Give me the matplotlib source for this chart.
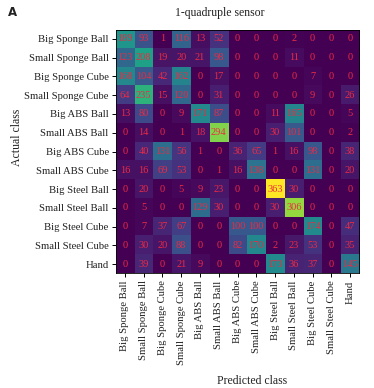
import matplotlib
matplotlib.use("Agg")
import matplotlib.pyplot as plt
import numpy as np

classes = ["Big Sponge Ball", "Small Sponge Ball", "Big Sponge Cube", "Small Sponge Cube",
           "Big ABS Ball", "Small ABS Ball", "Big ABS Cube", "Small ABS Cube",
           "Big Steel Ball", "Small Steel Ball", "Big Steel Cube", "Small Steel Cube", "Hand"]

row_big_sponge_ball = [189, 93, 1, 116, 13, 52, 0, 0, 0, 2, 0, 0, 0]
row_small_sponge_ball = [123, 208, 19, 20, 21, 98, 0, 0, 0, 11, 0, 0, 0]
row_big_sponge_cube = [168, 104, 42, 162, 0, 17, 0, 0, 0, 0, 7, 0, 0]
row_small_sponge_cube = [64, 235, 15, 120, 0, 31, 0, 0, 0, 0, 9, 0, 26]
row_big_abs_ball = [13, 80, 0, 9, 171, 87, 0, 0, 11, 165, 0, 0, 5]
row_small_abs_ball = [0, 14, 0, 1, 18, 294, 0, 0, 30, 101, 0, 0, 2]
row_big_abs_cube = [0, 40, 131, 56, 1, 0, 36, 65, 1, 16, 98, 0, 38]
row_small_abs_cube = [16, 16, 69, 53, 0, 1, 16, 138, 0, 0, 131, 0, 20]
row_big_steel_ball = [0, 20, 0, 5, 9, 23, 0, 0, 363, 30, 0, 0, 0]
row_small_steel_ball = [0, 5, 0, 0, 129, 30, 0, 0, 30, 306, 0, 0, 0]
row_big_steel_cube = [0, 7, 37, 67, 0, 0, 100, 100, 0, 0, 174, 0, 47]
row_small_steel_cube = [0, 30, 20, 88, 0, 0, 82, 170, 2, 23, 53, 0, 35]
row_hand = [0, 39, 0, 21, 9, 0, 0, 0, 173, 36, 37, 0, 145]

cm = np.array([row_big_sponge_ball, row_small_sponge_ball, row_big_sponge_cube,
               row_small_sponge_cube, row_big_abs_ball, row_small_abs_ball,
               row_big_abs_cube, row_small_abs_cube, row_big_steel_ball,
               row_small_steel_ball, row_big_steel_cube, row_small_steel_cube, row_hand])

W, H = 374, 388
fig = plt.figure(figsize=(W / 100, H / 100), dpi=100)
serif = "Liberation Serif"

left, right, top, bottom = 115.6, 359.4, 29.6, 273.4
ax = fig.add_axes([left / W, 1 - bottom / H, (right - left) / W, (bottom - top) / H])
ax.imshow(cm, cmap="viridis", aspect="auto", vmin=0, vmax=cm.max(), interpolation="nearest")

n = len(classes)
for i in range(n):
    for j in range(n):
        ax.text(j, i, str(cm[i, j]), ha="center", va="center", color="#ec2a44",
                fontsize=7.5, family=serif)

ax.set_xticks(range(n))
ax.set_yticks(range(n))
ax.set_xticklabels(classes, rotation=90, fontsize=7.7, family=serif, color="#222222")
ax.set_yticklabels(classes, fontsize=7.7, family=serif, color="#222222")
ax.tick_params(length=3, width=0.7, pad=2)
for s in ax.spines.values():
    s.set_linewidth(0.6)

fig.text(220 / W, 1 - 13 / H, "1-quadruple sensor", ha="center", va="center",
         fontsize=8.5, family=serif, color="#222222")
fig.text(12 / W, 1 - 12 / H, "A", ha="center", va="center", fontsize=8.5,
         fontweight="bold", family="DejaVu Sans", color="#222222")
fig.text(252 / W, 1 - 381 / H, "Predicted class", ha="center", va="center",
         fontsize=8.5, family=serif, color="#222222")
fig.text(17 / W, 1 - 137 / H, "Actual class", ha="center", va="center", rotation=90,
         fontsize=8.5, family=serif, color="#222222")

fig.savefig("out.png", dpi=100)
